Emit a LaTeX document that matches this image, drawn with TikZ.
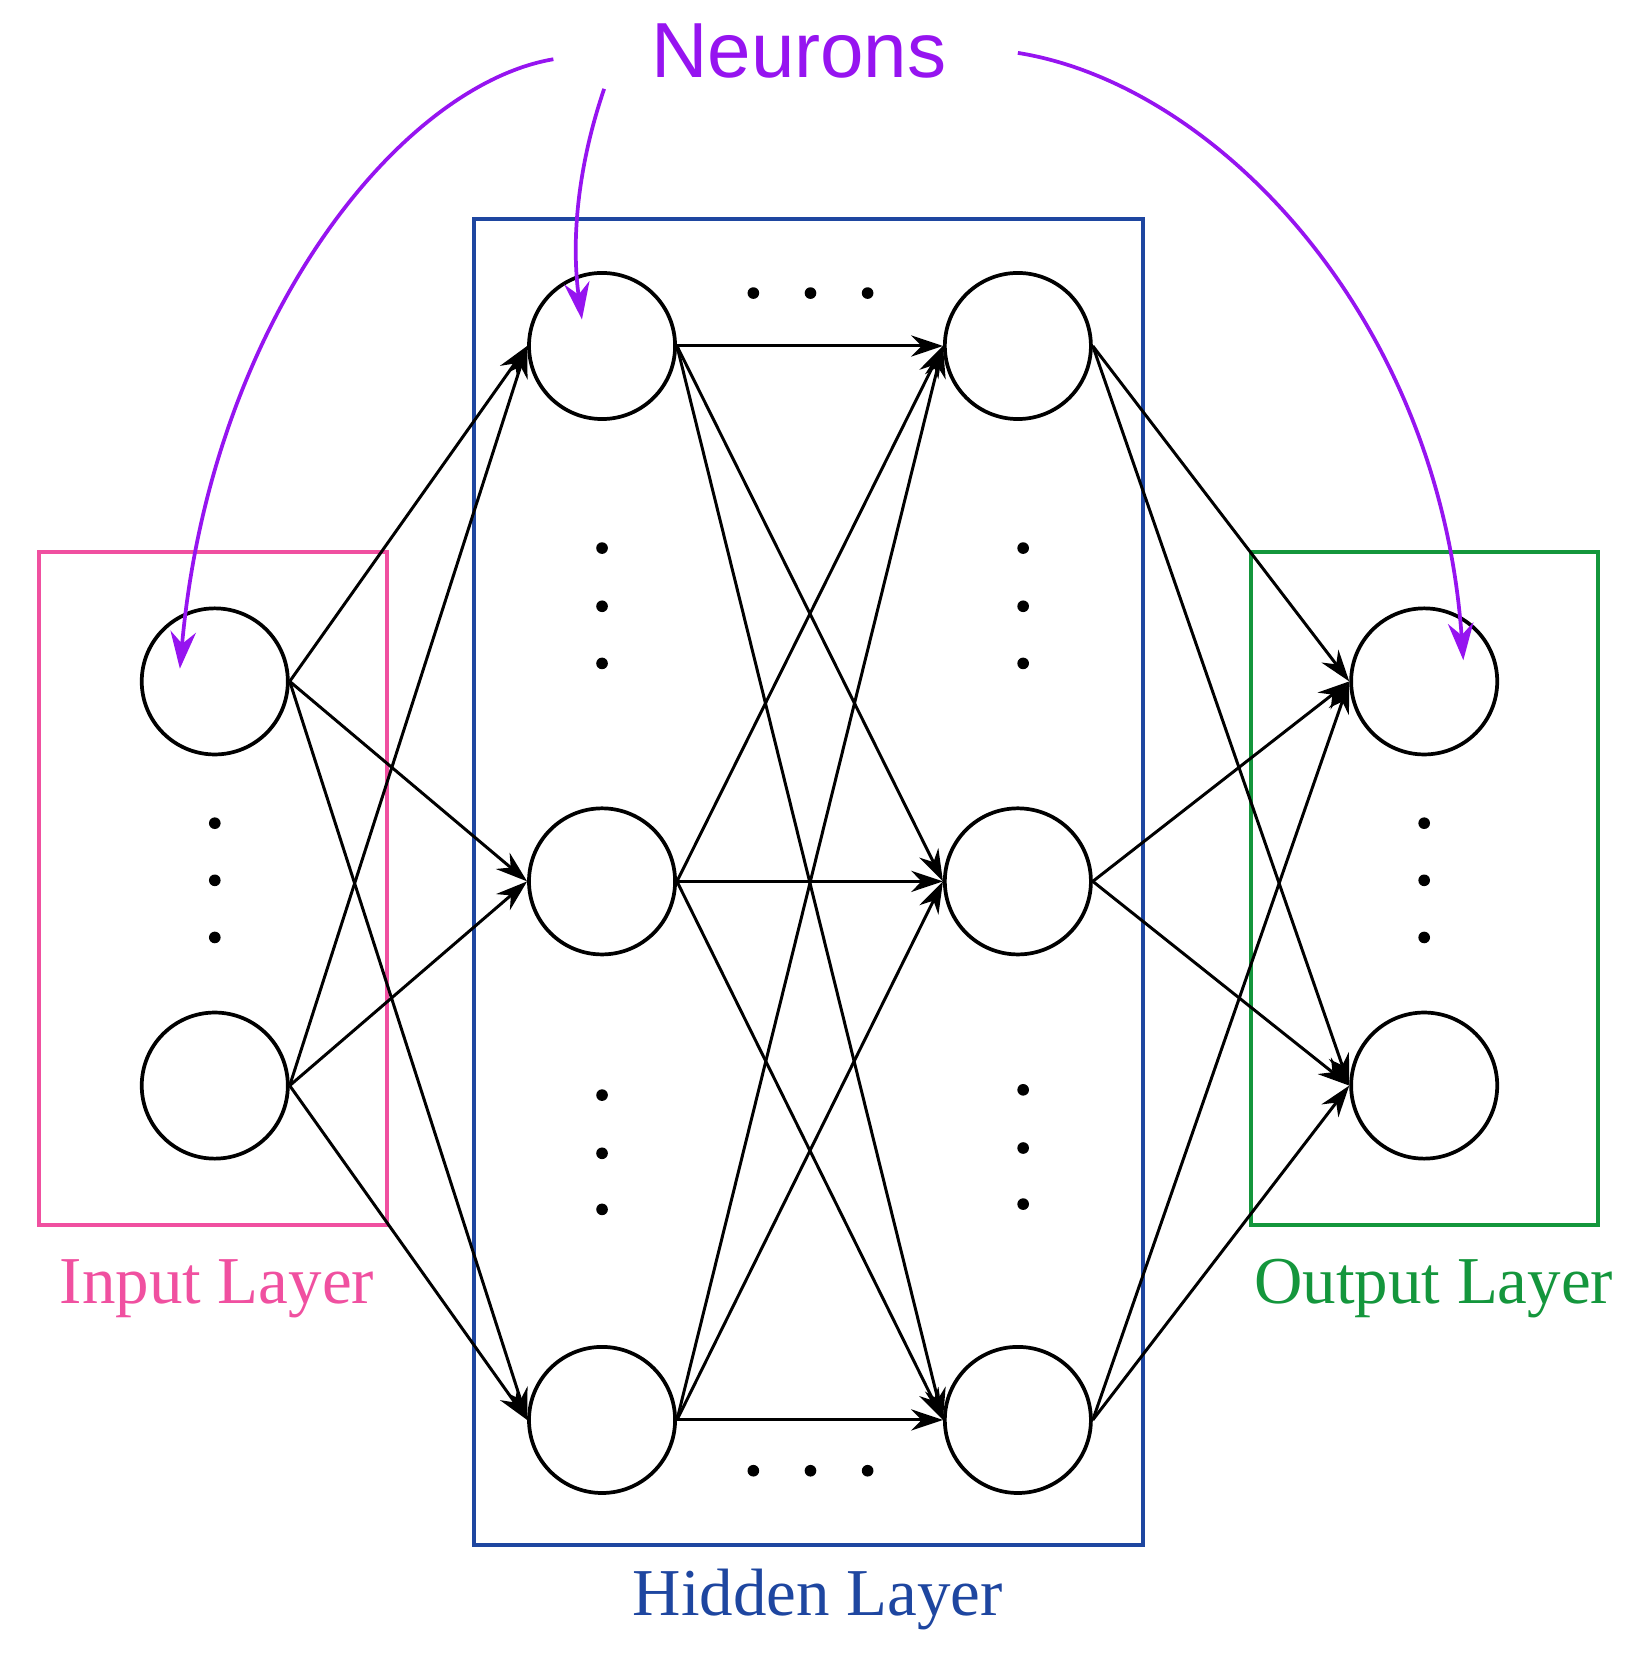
\documentclass[tikz,border=0pt]{standalone}
\usepackage{fontspec}
\setmainfont{Liberation Serif}
\newfontfamily\labelsans{Liberation Sans}
\usetikzlibrary{arrows.meta}
\definecolor{pinkbox}{RGB}{240,80,160}
\definecolor{bluebox}{RGB}{30,70,160}
\definecolor{greenbox}{RGB}{20,150,60}
\definecolor{neuronc}{RGB}{150,20,240}
\tikzset{
  neuron/.style={circle, draw, line width=1pt, minimum size=1.38cm, inner sep=0pt},
  link/.style={-{Stealth[length=3mm,width=2mm]}, line width=0.8pt},
  pointer/.style={-{Stealth[length=3.5mm,width=2.4mm]}, draw=neuronc, line width=1pt},
  layerlabel/.style={font=\fontsize{18}{21}\selectfont},
  dot/.style={circle, fill, inner sep=0pt, minimum size=1.1mm}
}
\begin{document}
\begin{tikzpicture}[x=0.01cm,y=-0.01cm]
		\useasboundingbox (0,0) rectangle (1543,1567);
		% layer boxes
		\draw[pinkbox, line width=1pt] (37,522) rectangle (366,1158);
		\draw[bluebox, line width=1pt] (448,207) rectangle (1080,1460);
		\draw[greenbox, line width=1pt] (1182,522) rectangle (1510,1158);
		\node[layerlabel, text=pinkbox] (inlabel) at (205,1218) {Input Layer};
		\node[layerlabel, text=bluebox] (hidlabel) at (773,1512) {Hidden Layer};
		\node[layerlabel, text=greenbox] (outlabel) at (1355,1218) {Output Layer};
		
		% neurons
		\node[neuron] (i1) at (203,644) {};
		\node[neuron] (i2) at (203,1026) {};
		\node[neuron] (a1) at (569,327) {};
		\node[neuron] (a2) at (569,833) {};
		\node[neuron] (a3) at (569,1342) {};
		\node[neuron] (b1) at (962,327) {};
		\node[neuron] (b2) at (962,833) {};
		\node[neuron] (b3) at (962,1342) {};
		\node[neuron] (o1) at (1346,644) {};
		\node[neuron] (o2) at (1346,1026) {};
		
		% connections
		\foreach \s in {i1,i2}
			\foreach \t in {a1,a2,a3}
				\draw[link] (\s.east) -- (\t.west);
		\foreach \s in {a1,a2,a3}
			\foreach \t in {b1,b2,b3}
				\draw[link] (\s.east) -- (\t.west);
		\foreach \s in {b1,b2,b3}
			\foreach \t in {o1,o2}
				\draw[link] (\s.east) -- (\t.west);
		
		% ellipsis dots
		\foreach \y in {778,832,886} {
			\node[dot] at (203,\y) {};
			\node[dot] at (1346,\y) {};
		}
		\foreach \y in {518,573,627} {
			\node[dot] at (569,\y) {};
			\node[dot] at (967,\y) {};
		}
		\foreach \y in {1035,1090,1143} \node[dot] at (569,\y) {};
		\foreach \y in {1030,1085,1138} \node[dot] at (967,\y) {};
		\foreach \x in {712,766,820} {
			\node[dot] at (\x,277) {};
			\node[dot] at (\x,1390) {};
		}
		
		% neuron pointers
		\node[text=neuronc, font=\labelsans\fontsize{21}{24}\selectfont] (neurons) at (755,48) {Neurons};
		\coordinate (p1) at (523,56);
		\coordinate (p2) at (571,84);
		\coordinate (p3) at (962,50);
		\coordinate (q1) at (170,632);
		\coordinate (q2) at (550,302);
		\coordinate (q3) at (1383,624);
		\draw[pointer] (p1) .. controls (380,80) and (200,300) .. (q1);
		\draw[pointer] (p2) .. controls (545,160) and (540,230) .. (q2);
		\draw[pointer] (p3) .. controls (1150,80) and (1360,300) .. (q3);
		
		\end{tikzpicture}
\end{document}
